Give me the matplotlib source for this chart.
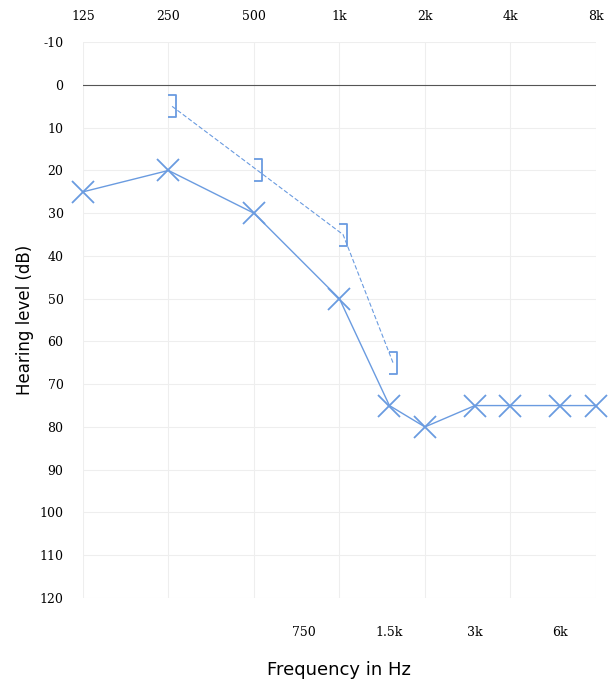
import matplotlib.pyplot as plt
from matplotlib.path import Path

main_freqs = [125, 250, 500, 1000, 2000, 4000, 8000]
main_labels = ['125', '250', '500', '1k', '2k', '4k', '8k']
mid_freqs = [750, 1500, 3000, 6000]
mid_labels = ['750', '1.5k', '3k', '6k']
y_ticks = list(range(-10, 130, 10))

air_freqs = [125, 250, 500, 1000, 1500, 2000, 3000, 4000, 6000, 8000]
air_levels = [25, 20, 30, 50, 75, 80, 75, 75, 75, 75]
bone_freqs = [250, 500, 1000, 1500]
bone_levels = [5, 20, 35, 65]

blue = '#6a9be0'
bracket = Path([(-0.4, 1), (0.4, 1), (0.4, -1), (-0.4, -1)],
               [Path.MOVETO, Path.LINETO, Path.LINETO, Path.LINETO])

fig = plt.figure(figsize=(6.08, 6.81), dpi=100)
ax = fig.add_axes([0.1365, 0.122, 0.8435, 0.816])
ax.set_xscale('log', base=2)
ax.set_xlim(125, 8000)
ax.set_ylim(120, -10)

for f in main_freqs:
    ax.axvline(f, color='#eeeeee', lw=0.8, zorder=0)
for y in y_ticks:
    ax.axhline(y, color='#555555' if y == 0 else '#eeeeee', lw=0.8, zorder=0)

ax.plot(air_freqs, air_levels, color=blue, lw=1, marker='x', ms=16,
        mew=1.3, clip_on=False, zorder=3)
ax.plot([f * 1.03 for f in bone_freqs], bone_levels, color=blue, lw=0.8,
        ls=(0, (4, 2)), marker=bracket, ms=16, mew=1.3, mfc='none',
        clip_on=False, zorder=3)

for s in ax.spines.values():
    s.set_visible(False)
ax.xaxis.tick_top()
ax.set_xticks(main_freqs)
ax.set_xticklabels(main_labels, family='DejaVu Serif', fontsize=9)
ax.minorticks_off()
ax.tick_params(axis='x', length=0, pad=14)
ax.set_yticks(y_ticks)
ax.set_yticklabels([str(y) for y in y_ticks], family='DejaVu Serif', fontsize=9)
ax.tick_params(axis='y', length=0, pad=14)
ax.set_ylabel('Hearing level (dB)', fontsize=12, labelpad=4)

sec = ax.secondary_xaxis('bottom')
sec.set_xticks(mid_freqs)
sec.set_xticklabels(mid_labels, family='DejaVu Serif', fontsize=9)
sec.minorticks_off()
sec.tick_params(length=0, pad=20)
sec.spines['bottom'].set_visible(False)
sec.set_xlabel('Frequency in Hz', fontsize=13, labelpad=16)

fig.savefig('out.png')
